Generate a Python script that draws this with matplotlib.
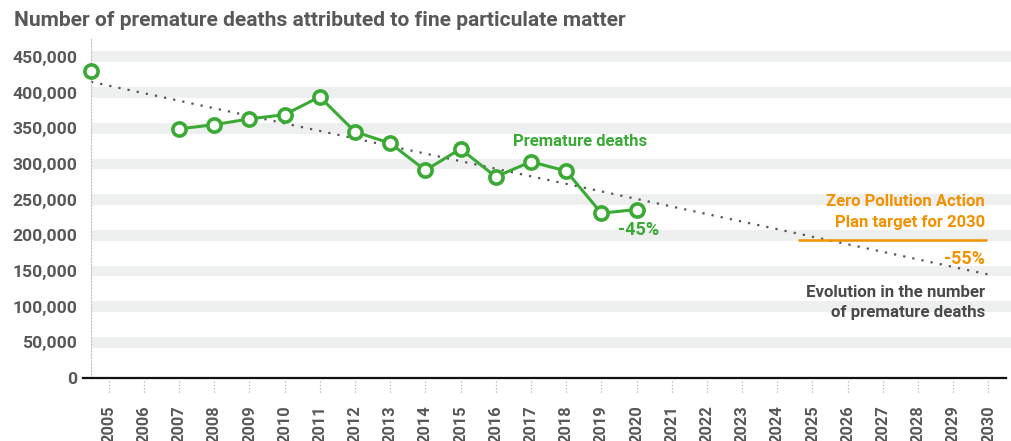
import numpy as np
import matplotlib
matplotlib.use("Agg")
import matplotlib.pyplot as plt

# data
years = np.array([2005, 2007, 2008, 2009, 2010, 2011, 2012, 2013, 2014, 2015, 2016, 2017, 2018, 2019, 2020])
deaths = np.array([430000, 349000, 355000, 363000, 369000, 394000, 345000, 329000, 291000, 321000,
                   282000, 303000, 290000, 231000, 236000])
trend_years = [2004.5, 2030]
trend_vals = [415000, 145000]
target_years = [2024.6, 2029.95]
target_val = 194000
yticks = list(range(0, 450001, 50000))
xyears = list(range(2005, 2031))

GREEN = "#3aaa35"
ORANGE = "#f39200"
GREY = "#58585a"
plt.rcParams["font.family"] = ["Roboto", "DejaVu Sans"]

fig = plt.figure(figsize=(10.11, 4.41), dpi=100)
ax = fig.add_axes([91 / 1011, 1 - 378 / 441, 1 - 91 / 1011, (378 - 39) / 441])
ax.set_xlim(2004.5, 2030.64)
ax.set_ylim(0, 475000)

# grey bands behind each tick value
for v in yticks[1:]:
    ax.axhspan(v - 7500, v + 7500, color="#eeefef", lw=0, zorder=0)

for s in ["top", "right", "bottom"]:
    ax.spines[s].set_visible(False)
ax.spines["left"].set_linestyle(":")
ax.spines["left"].set_color("#c8c8c8")
ax.spines["left"].set_linewidth(0.9)

# zero line, running slightly past the left edge
ax.plot([-0.009, 0.9945], [0, 0], transform=ax.get_yaxis_transform(), color="#111111",
        lw=1.6, clip_on=False, zorder=3)

ax.set_yticks(yticks)
ax.set_yticklabels([f"{v:,}" for v in yticks])
ax.tick_params(axis="y", length=0, pad=10, labelsize=12.6, labelcolor=GREY)
ax.set_xticks(xyears)
ax.set_xticklabels([str(y) for y in xyears], rotation=90, va="top")
ax.tick_params(axis="x", length=0, pad=19.5, labelsize=11.8, labelcolor=GREY)
for lab in ax.get_xticklabels() + ax.get_yticklabels():
    lab.set_fontweight("bold")

# small dotted ticks under the axis
ax.vlines(xyears, -0.01, -0.045, transform=ax.get_xaxis_transform(), colors="#b0b0b0",
          linestyles=":", lw=0.9, clip_on=False)

# trend line
ax.plot(trend_years, trend_vals, color="#555555", lw=1.6, ls=(0, (1, 3.2)), zorder=2)

# the 2005 point sits on the left edge in the original chart, with no line to 2007
xpos = np.where(years == 2005, 2004.5, years)
ax.plot(xpos[1:], deaths[1:], color=GREEN, lw=2.2, zorder=4)
ax.plot(xpos, deaths, "o", ms=9.5, mfc="white", mec=GREEN, mew=2.6, zorder=5, clip_on=False)

ax.plot(target_years, [target_val, target_val], color=ORANGE, lw=1.8, zorder=3, solid_capstyle="butt")

ax.text(2018.4, 331000, "Premature deaths", color=GREEN, fontsize=12, fontweight="bold",
        ha="center", va="center")
ax.text(2020.06, 208000, "-45%", color=GREEN, fontsize=13, fontweight="bold", ha="center", va="center")
ax.text(2029.9, 247000, "Zero Pollution Action", color=ORANGE, fontsize=12, fontweight="bold", ha="right", va="center")
ax.text(2029.9, 218000, "Plan target for 2030", color=ORANGE, fontsize=12, fontweight="bold", ha="right", va="center")
ax.text(2029.9, 167000, "-55%", color=ORANGE, fontsize=13, fontweight="bold", ha="right", va="center")
ax.text(2029.9, 120000, "Evolution in the number", color="#4a4a4a", fontsize=12.2, fontweight="bold", ha="right", va="center")
ax.text(2029.9, 92000, "of premature deaths", color="#4a4a4a", fontsize=12.2, fontweight="bold", ha="right", va="center")

fig.text(14 / 1011, 1 - 21 / 441, "Number of premature deaths attributed to fine particulate matter",
         color=GREY, fontsize=15.1, fontweight="bold", ha="left", va="center")

fig.savefig("out.png", dpi=100)
